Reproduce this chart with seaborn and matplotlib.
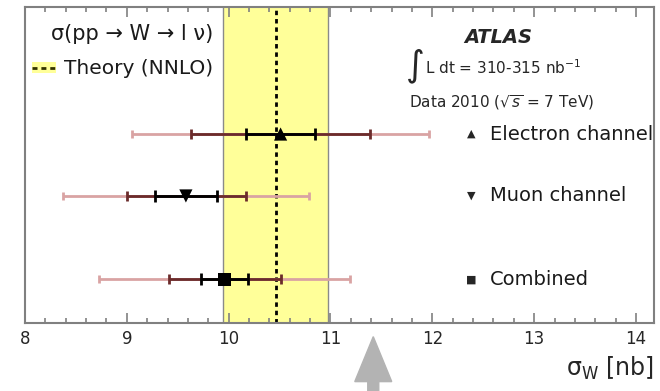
import matplotlib
matplotlib.use("Agg")
import matplotlib.pyplot as plt
import matplotlib.transforms as mtransforms
from matplotlib.patches import Patch, FancyArrow
from matplotlib.lines import Line2D
from matplotlib.ticker import MultipleLocator
import seaborn as sns
import pandas as pd

# ---- data ----
channels = ["Electron channel", "Muon channel", "Combined"]
central = [10.51, 9.58, 9.96]
stat_lo = [10.17, 9.28, 9.73]
stat_hi = [10.85, 9.89, 10.19]
syst_lo = [9.63, 9.00, 9.41]
syst_hi = [11.39, 10.17, 10.51]
tot_lo = [9.05, 8.37, 8.73]
tot_hi = [11.97, 10.79, 11.19]
theory = 10.46
theory_lo = 9.94
theory_hi = 10.98
arrow_x = 11.42
xticks = [8, 9, 10, 11, 12, 13, 14]

# layout (row positions, axes fraction)
row_y = [0.598, 0.402, 0.138]
markers = {"Electron channel": "^", "Muon channel": "v", "Combined": "s"}
marker_glyph = ["▲", "▼", "■"]

sns.set_style("white")
plt.rcParams["font.family"] = ["DejaVu Sans"]
plt.rcParams["mathtext.fontset"] = "dejavusans"

fig = plt.figure(figsize=(6.6, 3.91), dpi=100)
ax = fig.add_axes([25 / 660, 1 - 323 / 391, 629 / 660, 316 / 391])

df = pd.DataFrame({"channel": channels, "value": central, "y": row_y})

# theory band
ax.axvspan(theory_lo, theory_hi, facecolor="#ffff99", edgecolor="none", zorder=0)
for xv in (theory_lo, theory_hi):
    ax.axvline(xv, color="#8a8a8a", lw=1.0, zorder=0.5)
ax.axvline(theory, color="black", lw=2.0, ls=(0, (1.6, 1.4)), zorder=1)

# error bars
for i in range(len(channels)):
    c = central[i]
    y = row_y[i]
    ax.errorbar([c], [y], xerr=[[c - tot_lo[i]], [tot_hi[i] - c]], fmt="none",
                ecolor="#d9a3a3", elinewidth=2, capsize=3.2, capthick=2, zorder=2)
    ax.errorbar([c], [y], xerr=[[c - syst_lo[i]], [syst_hi[i] - c]], fmt="none",
                ecolor="#6b2b2b", elinewidth=2, capsize=3.6, capthick=2, zorder=3)
    ax.errorbar([c], [y], xerr=[[c - stat_lo[i]], [stat_hi[i] - c]], fmt="none",
                ecolor="black", elinewidth=2, capsize=4.2, capthick=2, zorder=4)

sns.scatterplot(data=df, x="value", y="y", style="channel", markers=markers,
                color="black", s=90, edgecolor="black", linewidth=0,
                legend=False, ax=ax, zorder=5)

ax.set_xlim(8, 14.177)
ax.set_ylim(0, 1)
ax.set_xticks(xticks)
ax.set_xticklabels([str(t) for t in xticks])
ax.xaxis.set_minor_locator(MultipleLocator(0.2))
ax.set_yticks([])
ax.set_ylabel("")
ax.tick_params(axis="x", which="both", direction="in", top=True, bottom=True,
               color="#808080", width=1.2, labelsize=12, pad=5)
ax.tick_params(axis="x", which="major", length=7.2)
ax.tick_params(axis="x", which="minor", length=3.6)
for sp in ax.spines.values():
    sp.set_color("#808080")
    sp.set_linewidth(1.5)
    sp.set_visible(True)

ax.set_xlabel(r"σ$_{\mathrm{W}}$ [nb]", loc="right", fontsize=17, labelpad=5)

# right-hand labels
blend = mtransforms.blended_transform_factory(ax.transAxes, ax.transData)
for i, name in enumerate(channels):
    ax.text(0.710, row_y[i], marker_glyph[i], transform=blend, fontsize=8,
            ha="center", va="center")
    ax.text(0.739, row_y[i], name, transform=blend, fontsize=14,
            ha="left", va="center", color="#1a1a1a")

# legend
handle = (Patch(facecolor="#ffff99", edgecolor="none"),
          Line2D([], [], color="#333300", lw=2, ls=(0, (1.8, 1.4))))
leg = ax.legend(handles=[handle], labels=["Theory (NNLO)"],
                title="σ(pp → W → l ν)", loc="upper left",
                bbox_to_anchor=(0.011, 0.945), frameon=False, fontsize=14.5,
                title_fontsize=15, handlelength=1.2, handleheight=0.45,
                handletextpad=0.4, borderpad=0, borderaxespad=0,
                labelspacing=0.75, alignment="right")
leg.get_title().set_color("#1a1a1a")
for t in leg.get_texts():
    t.set_color("#1a1a1a")

# ATLAS labels
ax.text(0.753, 0.905, "ATLAS", transform=ax.transAxes, fontsize=14,
        fontweight="bold", fontstyle="italic", ha="center", va="center")
ax.text(0.620, 0.815, "∫", transform=ax.transAxes, fontsize=26,
        ha="center", va="center")
ax.text(0.636, 0.807, r"L dt = 310-315 nb$^{-1}$", transform=ax.transAxes,
        fontsize=11, ha="left", va="center")
ax.text(0.610, 0.699, r"Data 2010 ($\sqrt{s}$ = 7 TeV)", transform=ax.transAxes,
        fontsize=11, ha="left", va="center")

# gray arrow below the axis
btrans = mtransforms.blended_transform_factory(ax.transData, fig.transFigure)
arr = FancyArrow(arrow_x, -0.05, 0, 0.139 + 0.05, width=0.108, head_width=0.363,
                 head_length=0.115, length_includes_head=True,
                 color="#b3b3b3", transform=btrans, clip_on=False)
fig.add_artist(arr)

fig.savefig("out.png", dpi=100)
